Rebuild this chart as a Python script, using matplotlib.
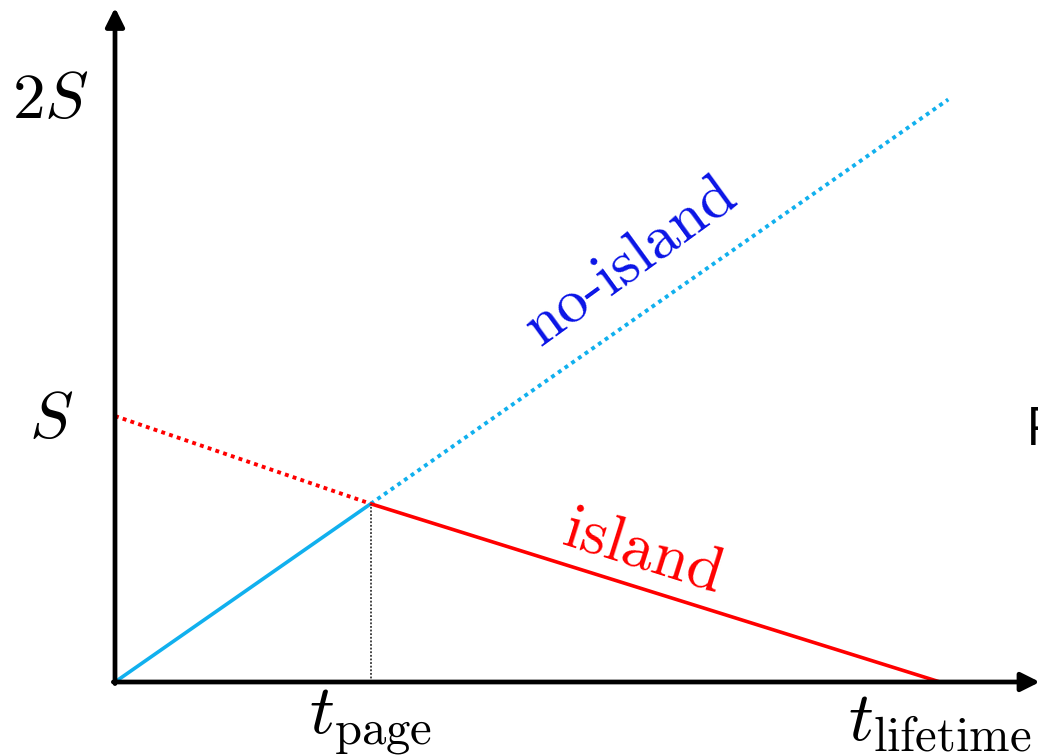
import numpy as np
import matplotlib
matplotlib.use("Agg")
from matplotlib import pyplot as plt

plt.rcParams['mathtext.fontset'] = 'cm'

# times in units of the lifetime, entropy in units of S
t_page = 0.31
t_life = 1.0
t_end = 1.01

island_t = [0.0, t_page, t_life]
island_s = [1.0, 0.67, 0.0]
noisland_t = [0.0, t_page, t_end]
noisland_s = [0.0, 0.67, 2.19]

ytick_vals = [0.985, 2.188]
ytick_labels = [r'$S$', r'$2S$']
xtick_vals = [t_page, t_life]
xtick_labels = [r'$t_{\rm page}$', r'$t_{\rm lifetime}$']

blue = '#11b0ee'
red = '#ff0000'

fig = plt.figure(figsize=(10.38, 7.55), dpi=100)
ax = fig.add_axes([0, 0, 1, 1])
ax.set_xlim(-115 / 825, (1038 - 115) / 825)
ax.set_ylim(-73 / 266, (755 - 73) / 266)
ax.axis('off')

# axes with arrow heads
ax.annotate('', xy=(1.121, 0), xytext=(-0.002, 0), annotation_clip=False,
            arrowprops=dict(arrowstyle='-|>', lw=3.4, color='black',
                            mutation_scale=28, shrinkA=0, shrinkB=0))
ax.annotate('', xy=(0, 2.535), xytext=(0, -0.006), annotation_clip=False,
            arrowprops=dict(arrowstyle='-|>', lw=3.4, color='black',
                            mutation_scale=28, shrinkA=0, shrinkB=0))

# no-island: solid before the Page time, dotted after
ax.plot(noisland_t[:2], noisland_s[:2], color=blue, lw=2.6, solid_capstyle='butt')
ax.plot(noisland_t[1:], noisland_s[1:], color=blue, lw=2.8, ls=(0, (1, 1.1)))

# island: dotted before the Page time, solid after
ax.plot(island_t[:2], island_s[:2], color=red, lw=2.8, ls=(0, (1, 1.1)))
ax.plot(island_t[1:], island_s[1:], color=red, lw=2.6, solid_capstyle='butt')

# Page time marker
ax.plot([t_page, t_page], [0, island_s[1]], color='#333333', lw=1.3, ls=(0, (1, 1)))

for v, lab in zip(ytick_vals, ytick_labels):
    ax.text(-0.078, v, lab, fontsize=47, ha='center', va='center')
for v, lab in zip(xtick_vals, xtick_labels):
    ax.text(v, -0.022, lab, fontsize=50, ha='center', va='top')

ax.text(0.625, 1.58, 'no-island', fontsize=45, color='#0a14e6', family='cmr10',
        rotation=36, ha='center', va='center', rotation_mode='anchor')
ax.text(0.64, 0.48, 'island', fontsize=46, color=red, family='cmr10',
        rotation=-17.5, ha='center', va='center', rotation_mode='anchor')

# partly visible text beyond the right edge
ax.text(1.104, 0.944, 'P', fontsize=38, family='Open Sans', ha='left', va='center',
        clip_on=False)

fig.savefig('out.png', dpi=100)
